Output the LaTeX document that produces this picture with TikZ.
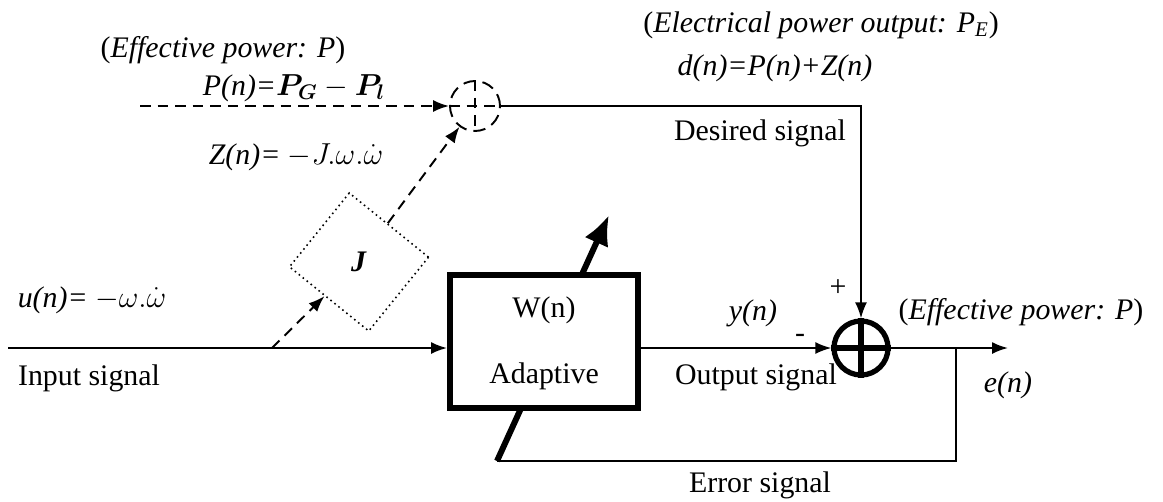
\documentclass[tikz,border=0pt]{standalone}
\usepackage{amsmath,amssymb}
\usepackage{fontspec}
\setmainfont{Liberation Serif}
\usepackage{tikz}
\usetikzlibrary{arrows.meta,positioning,calc}

\begin{document}
\begin{tikzpicture}[
x=0.02cm,
y=-0.02cm,
every node/.style={font=\fontsize{17}{20}\selectfont,inner sep=0pt},
sigline/.style={line width=1.1pt},
sigarr/.style={-{Latex[length=3.2mm,width=2.4mm]},line width=1.1pt},
dasharr/.style={-{Latex[length=3.2mm,width=2.4mm]},line width=1.1pt,dash pattern=on 6pt off 4pt},
adbox/.style={rectangle,draw,fill=white,line width=3.4pt,minimum width=3.76cm,minimum height=2.66cm},
adarr/.style={-{Latex[length=6mm,width=5.2mm]},line width=3.4pt},
sumnode/.style={circle,draw,line width=3pt,minimum size=1.08cm},
dsumnode/.style={circle,draw,line width=1.1pt,dash pattern=on 7pt off 4pt,minimum size=1.0cm},
jnode/.style={rectangle,draw,dotted,line width=0.9pt,minimum width=2.04cm,minimum height=1.9cm,rotate=-39}
]
\useasboundingbox (0,0) rectangle (1163,501);

% coordinates
\coordinate (inp) at (8,348);
\coordinate (tap) at (272,348);
\coordinate (ppin) at (140,106);
\coordinate (eout) at (1008,348);
\coordinate (etap) at (956,348);
\coordinate (errend) at (497,461);
\coordinate (adtip) at (609,215);

% adaptation arrow (box drawn over it)
\draw[adarr] (errend) -- (adtip);

% blocks
\node[adbox] (wbox) at (544,341.5) {};
\node (wlbl) at (544,310) {W(n)};
\node (adlbl) at (544,376) {Adaptive};
\node[sumnode] (sum) at (861,348) {};
\node[dsumnode] (dsum) at (475,106) {};
\node[jnode] (jbox) at (359,262) {};
\node (jlbl) at (359,262) {\textbf{\textit{J}}};

% texts
\node (effp) at (223,50) {(\textit{Effective power: P})};
\node (pn) at (294,88) {\textit{P(n)=}$\boldsymbol{P_G}-\boldsymbol{P_l}$};
\node (zn) at (296,157) {\textit{Z(n)=} $-J.\omega.\dot{\omega}$};
\node (elp) at (821,25) {(\textit{Electrical power output: P\textsubscript{E}})};
\node (dn) at (775,68) {\textit{d(n)=P(n)+Z(n)}};
\node (des) at (760,133) {Desired signal};
\node (un) at (92,300) {\textit{u(n)=} $-\omega.\dot{\omega}$};
\node (insig) at (89,378) {Input signal};
\node (yn) at (753,313) {\textit{y(n)}};
\node (minus) at (800,338) {-};
\node (plus) at (838,288) {+};
\node (outsig) at (756,377) {Output signal};
\node (effp2) at (1021,312) {(\textit{Effective power: P})};
\node (en) at (1008,385) {\textit{e(n)}};
\node (errsig) at (760,485) {Error signal};

% inner signs
\draw[line width=3pt] (sum.north) -- (sum.south);
\draw[line width=3pt] (sum.west) -- (sum.east);
\draw[line width=1.1pt,dash pattern=on 6pt off 4pt] (dsum.north) -- (dsum.south);
\draw[line width=1.1pt,dash pattern=on 6pt off 4pt] (dsum.west) -- (dsum.east);

% connectors
\draw[dasharr] (ppin) -- (dsum);
\draw[dasharr] (tap) -- (jbox);
\draw[dasharr] (jbox) -- (dsum);
\draw[sigarr] (dsum.east) -| (sum.north);
\draw[sigarr] (inp) -- (wbox.west |- inp);
\draw[sigarr] (wbox.east |- sum) -- (sum.west);
\draw[sigarr] (sum.east) -- (eout);
\draw[sigline] (etap) |- (errend);
\end{tikzpicture}
\end{document}
